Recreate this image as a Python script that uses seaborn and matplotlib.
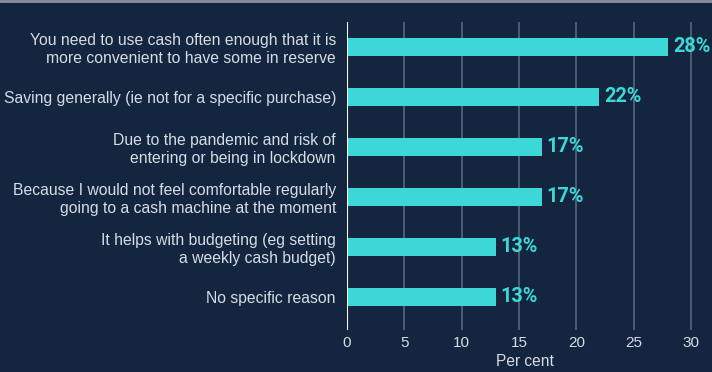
import pandas as pd
import seaborn as sns
import matplotlib.pyplot as plt
from matplotlib.lines import Line2D

reasons = [
    'You need to use cash often enough that it is\nmore convenient to have some in reserve',
    'Saving generally (ie not for a specific purchase)',
    'Due to the pandemic and risk of\nentering or being in lockdown',
    'Because I would not feel comfortable regularly\ngoing to a cash machine at the moment',
    'It helps with budgeting (eg setting\na weekly cash budget)',
    'No specific reason',
]
shares = [28, 22, 17, 17, 13, 13]
xTicks = [0, 5, 10, 15, 20, 25, 30]

bgColor = '#14263f'
barColor = '#3cd8d8'
textColor = '#d6dce3'
gridColor = '#56667c'

df = pd.DataFrame({'Reason': reasons, 'Share': shares})

sns.set_style('dark')
plt.rcParams['font.family'] = ['Liberation Sans', 'DejaVu Sans']

fig = plt.figure(figsize=(7.12, 3.72), dpi=100, facecolor=bgColor)
ax = fig.add_axes([0.4874, 0.1129, 0.4994, 0.828])
ax.set_facecolor(bgColor)

sns.barplot(data=df, x='Share', y='Reason', color=barColor, saturation=1,
            width=0.36, linewidth=0, edgecolor=barColor, ax=ax, zorder=3)

for i, v in enumerate(shares):
    ax.text(v + 0.4, i, f'{v}%', va='center', ha='left', color=barColor,
            fontsize=14.3, fontweight='bold', family=['Roboto', 'DejaVu Sans'], zorder=4)

ax.set_xlim(0, 31)
ax.set_ylim(5.66, -0.5)
ax.set_xticks(xTicks)
ax.set_xticklabels([str(t) for t in xTicks])
ax.grid(False)
for t in xTicks[1:]:
    ax.axvline(t, color=gridColor, linewidth=1.2, zorder=1)
ax.axvline(0, color='white', linewidth=1.5, zorder=5)

for s in ax.spines.values():
    s.set_visible(False)
ax.tick_params(axis='both', length=0, colors=textColor)
ax.tick_params(axis='x', pad=4, labelsize=11)
ax.tick_params(axis='y', pad=8, labelsize=11.3)
ax.set_ylabel('')
ax.set_xlabel('Per cent', color=textColor, fontsize=11.2, labelpad=3)
for lbl in ax.get_yticklabels():
    lbl.set_horizontalalignment('right')
    lbl.set_multialignment('right')
    lbl.set_linespacing(1.25)

fig.add_artist(Line2D([0, 1], [0.997, 0.997], transform=fig.transFigure,
                      color='#8a939c', linewidth=2))

fig.savefig('out.png', dpi=100, facecolor=bgColor)
